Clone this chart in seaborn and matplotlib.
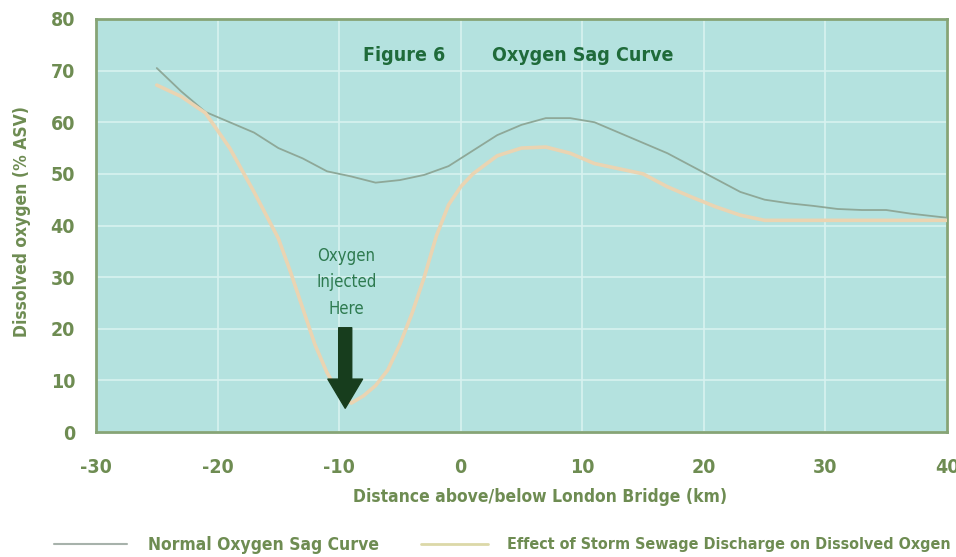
import matplotlib
matplotlib.use("Agg")
import matplotlib.pyplot as plt
import seaborn as sns
import pandas as pd
from matplotlib.lines import Line2D

# distance above/below London Bridge (km) and dissolved oxygen (% ASV)
normal_km = [-25, -23, -21, -19, -17, -15, -13, -11, -9, -7, -5, -3, -1, 1, 3, 5,
             7, 9, 11, 13, 15, 17, 19, 21, 23, 25, 27, 29, 31, 33, 35, 37, 40]
normal_do = [70.5, 66, 62, 60, 58, 55, 53, 50.5, 49.5, 48.3, 48.8, 49.8, 51.5, 54.5,
             57.5, 59.5, 60.8, 60.8, 60, 58, 56, 54, 51.5, 49, 46.5, 45, 44.3, 43.8,
             43.2, 43, 43, 42.3, 41.5]

storm_km = [-25, -23, -21, -19, -17, -15, -14, -13, -12, -11, -10, -9, -8, -7, -6,
            -5, -4, -3, -2, -1, 0, 1, 3, 5, 7, 9, 11, 13, 15, 17, 19, 21, 23, 25,
            30, 35, 40]
storm_do = [67.2, 65, 61.8, 55, 46.5, 37.5, 31, 24, 17, 11.5, 7.5, 5.6, 7, 9, 12,
            17, 23, 30, 38, 44, 47.5, 50, 53.5, 55, 55.2, 54, 52, 51, 50, 47.5,
            45.5, 43.6, 42, 41, 41, 41, 41]

x_ticks = [-30, -20, -10, 0, 10, 20, 30, 40]
y_ticks = [0, 10, 20, 30, 40, 50, 60, 70, 80]

normal_label = "Normal Oxygen Sag Curve"
storm_label = "Effect of Storm Sewage Discharge on Dissolved Oxgen"

sns.set_style("white")
plt.rcParams["font.family"] = ["DejaVu Sans"]
plt.rcParams["font.stretch"] = "condensed"
plt.rcParams["axes.unicode_minus"] = False

olive = "#6e8c52"
normal_col = "#8ea898"
storm_col = "#ead4b2"

fig = plt.figure(figsize=(9.56, 5.57), dpi=100)
ax = fig.add_axes([0.1004, 0.2244, 0.8902, 0.7415])
ax.set_facecolor("#b4e2df")

df_n = pd.DataFrame({"km": normal_km, "do": normal_do})
df_s = pd.DataFrame({"km": storm_km, "do": storm_do})
sns.lineplot(data=df_n, x="km", y="do", ax=ax, color=normal_col, lw=1.3,
             estimator=None, sort=False, zorder=3)
sns.lineplot(data=df_s, x="km", y="do", ax=ax, color=storm_col, lw=2.6,
             estimator=None, sort=False, zorder=3)

ax.set_xlim(-30, 40)
ax.set_ylim(0, 80)
ax.set_xticks(x_ticks)
ax.set_yticks(y_ticks)
ax.grid(True, color="#d8f2f0", lw=1.3, alpha=0.9)
ax.set_axisbelow(True)
for s in ax.spines.values():
    s.set_color("#86a476")
    s.set_linewidth(2)

ax.tick_params(length=0, labelsize=14, labelcolor=olive)
ax.tick_params(axis="x", pad=19)
ax.tick_params(axis="y", pad=15)
for lab in ax.get_xticklabels() + ax.get_yticklabels():
    lab.set_fontweight("bold")

ax.set_xlabel("Distance above/below London Bridge (km)", fontsize=12.5,
              color=olive, fontweight="bold")
ax.xaxis.set_label_coords(0.522, -0.135)
ax.set_ylabel("Dissolved oxygen (% ASV)", fontsize=12.5, color=olive,
              fontweight="bold")
ax.yaxis.set_label_coords(-0.076, 0.51)

ax.text(-8, 73, "Figure 6", fontsize=14, fontweight="bold", color="#1f6b3a",
        va="center", ha="left")
ax.text(2.6, 73, "Oxygen Sag Curve", fontsize=14, fontweight="bold",
        color="#1f6b3a", va="center", ha="left")

ax.text(-9.4, 29, "Oxygen\nInjected\nHere", fontsize=12, color="#2d7a4f",
        ha="center", va="center", linespacing=1.6)
ax.annotate("", xy=(-9.5, 4.6), xytext=(-9.5, 20.2),
            arrowprops=dict(arrowstyle="simple,head_width=1.25,head_length=1.05,tail_width=0.47",
                            mutation_scale=20, color="#173d1d", shrinkA=0, shrinkB=0),
            zorder=5)

leg_kw = dict(loc="center left", frameon=False, handlelength=4.2,
              handletextpad=1.2, borderpad=0, borderaxespad=0,
              labelcolor=olive)
leg1 = fig.legend([Line2D([], [], color="#a7b2ab", lw=1.5)], [normal_label],
                  bbox_to_anchor=(0.057, 0.022),
                  prop={"size": 12.5, "weight": "bold", "stretch": "condensed"},
                  **leg_kw)
leg2 = fig.legend([Line2D([], [], color="#dcd8a8", lw=2)], [storm_label],
                  bbox_to_anchor=(0.44, 0.022),
                  prop={"size": 11.5, "weight": "bold", "stretch": "condensed"},
                  **leg_kw)

fig.savefig("out.png", dpi=100, facecolor="white")
